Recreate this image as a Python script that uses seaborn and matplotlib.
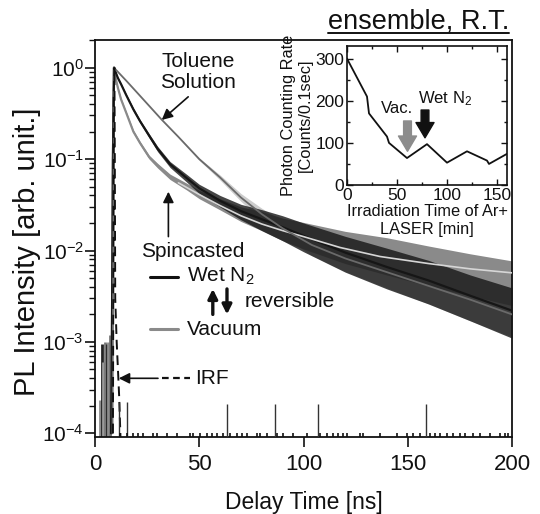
import matplotlib
matplotlib.use('Agg')
import matplotlib.pyplot as plt
import seaborn as sns
from matplotlib.lines import Line2D
from matplotlib.ticker import LogLocator, MultipleLocator, NullFormatter, FixedLocator

# ---------------- data ----------------
# Spincasted film, wet N2 (black, noisy) and vacuum (gray, noisy)
t_film = [7.7, 8.1, 8.6, 9.1, 10, 11, 12.5, 15, 18.4, 21.6, 26, 30, 36, 44, 50,
          60, 70, 80, 90, 100, 120, 140, 160, 180, 200]
wet_mid = [1e-4, 1e-3, 0.1, 1.0, 0.88, 0.77, 0.66, 0.50, 0.35, 0.26, 0.18, 0.13, 0.088,
           0.062, 0.048, 0.035, 0.027, 0.022, 0.018, 0.0145, 0.0095, 0.0066, 0.0047,
           0.0032, 0.0022]
wet_lo = [1e-4, 1e-3, 0.1, 1.0, 0.86, 0.752, 0.637, 0.483, 0.334, 0.248, 0.17, 0.121,
          0.081, 0.056, 0.042, 0.030, 0.0217, 0.0165, 0.0128, 0.0097, 0.0058, 0.0038,
          0.0026, 0.0017, 0.0011]
wet_hi = [1e-4, 1e-3, 0.1, 1.0, 0.90, 0.785, 0.68, 0.515, 0.364, 0.27, 0.189, 0.138,
          0.094, 0.068, 0.053, 0.040, 0.032, 0.028, 0.024, 0.020, 0.0143, 0.0106, 0.0078,
          0.0054, 0.0039]
vac_mid = [1e-4, 1e-3, 0.1, 1.0, 0.75, 0.60, 0.45, 0.32, 0.20, 0.15, 0.105, 0.085, 0.064,
           0.050, 0.041, 0.032, 0.025, 0.021, 0.017, 0.0145, 0.0108, 0.0086, 0.0068,
           0.0054, 0.0044]
vac_lo = [1e-4, 1e-3, 0.1, 1.0, 0.735, 0.588, 0.437, 0.311, 0.192, 0.144, 0.10, 0.08,
          0.0598, 0.0459, 0.0369, 0.0278, 0.0208, 0.0165, 0.0128, 0.0104, 0.0072, 0.0054,
          0.0041, 0.0032, 0.0025]
vac_hi = [1e-4, 1e-3, 0.1, 1.0, 0.765, 0.612, 0.464, 0.33, 0.208, 0.156, 0.11, 0.09,
          0.0685, 0.0545, 0.0455, 0.0368, 0.030, 0.0267, 0.0226, 0.0203, 0.0162, 0.0138,
          0.0112, 0.0092, 0.0077]

# Vacuum fit curve (light gray smooth line)
t_vfit = [40, 50, 60, 70, 80, 90, 100, 117.5, 136.7, 160, 180, 200]
vac_fit = [0.055, 0.041, 0.031, 0.024, 0.0195, 0.0165, 0.0142, 0.0108,
           0.0086, 0.0072, 0.0063, 0.0057]

# Toluene solution (smooth gray line + light-gray noisy data)
t_tol = [8.4, 9.1, 15, 20, 32, 40, 50, 60, 70, 80, 90, 104, 120, 140, 160, 180, 200]
tol = [1e-4, 1.0, 0.72, 0.54, 0.27, 0.175, 0.10, 0.063, 0.038, 0.025, 0.0175, 0.0115,
       0.0082, 0.0058, 0.0041, 0.0029, 0.0020]
tol_lo = [1e-4, 1.0, 0.72, 0.54, 0.27, 0.173, 0.097, 0.059, 0.0345, 0.0217, 0.0146,
          0.0088, 0.0059, 0.0039, 0.0026, 0.0017, 0.00114]
tol_hi = [1e-4, 1.0, 0.72, 0.54, 0.27, 0.177, 0.103, 0.067, 0.042, 0.029, 0.021, 0.015,
          0.0115, 0.0087, 0.0066, 0.0049, 0.0035]

# Instrument response function (dashed)
t_irf = [8.6, 9.0, 9.3, 9.5, 9.7, 10.4, 11.2, 11.6, 12.0, 12.3]
irf = [1e-4, 0.5, 1.0, 0.1, 3e-3, 1e-3, 4e-4, 2.5e-4, 1.3e-4, 8e-5]

# Pre-pulse noise spikes
pre_t = [2.4, 3.2, 4.0, 4.8, 5.6, 6.4, 7.2]
pre_h = [2.3e-4, 9.6e-4, 6e-4, 1.0e-3, 9.6e-4, 1.0e-3, 1.2e-3]
pre_c = ['#8c8c8c', '#222222', '#9a9a9a', '#777777', '#222222', '#8c8c8c', '#777777']

# Isolated single-count spikes and floor counts
spike_t = [11.6, 15.2, 63.2, 86.3, 106.8, 158.6]
spike_h = [2.2e-4, 2.2e-4, 2.1e-4, 2.1e-4, 2.1e-4, 2.1e-4]
floor_t = [12.0, 15.2, 18.4, 20.8, 23.2, 28.0, 29.6, 34.4, 39.2, 45.6, 47.2, 50.4, 53.6,
           56.0, 58.4, 61.6, 64.8, 68.0, 70.4, 72.8, 77.6, 79.1, 82.3, 87.1, 90.3, 95.1,
           101.5, 107.9, 111.1, 114.3, 116.7, 119.1, 120.7, 127.1, 128.7, 136.7, 144.7,
           149.5, 152.7, 155.9, 160.7, 163.1, 165.5, 168.7, 171.9, 175.1, 177.5, 181.5,
           184.7, 189.5, 194.3, 196.7, 198.3]
floor_h = 1.0e-4

# Inset: photon counting rate vs irradiation time
inset_t = [0, 20, 22, 40, 42, 60, 80, 100, 120, 140, 142, 160]
inset_rate = [300, 210, 170, 115, 100, 64, 97, 53, 80, 58, 50, 74]

# ---------------- style ----------------
sns.set_theme(style='ticks')
plt.rcParams['font.family'] = ['Liberation Sans', 'DejaVu Sans']
plt.rcParams['mathtext.fontset'] = 'custom'
plt.rcParams['mathtext.rm'] = 'Liberation Sans'
plt.rcParams['mathtext.it'] = 'Liberation Sans:italic'
plt.rcParams['mathtext.bf'] = 'Liberation Sans:bold'
plt.rcParams['axes.unicode_minus'] = False
TXT = '#111111'
plt.rcParams['text.color'] = TXT
plt.rcParams['xtick.color'] = TXT
plt.rcParams['ytick.color'] = TXT
plt.rcParams['axes.labelcolor'] = TXT

W, H = 540, 514
fig = plt.figure(figsize=(W / 100, H / 100), dpi=100)
fig.patch.set_facecolor('white')

ax = fig.add_axes([95 / W, 1 - 437 / H, 417 / W, 397 / H])
ax.set_yscale('log')
ax.set_xlim(0, 200)
ymin, ymax = 10 ** -4.04, 10 ** 0.303
ax.set_ylim(ymin, ymax)

# noisy bands
ax.fill_between(t_tol, tol_lo, tol_hi, color='#cdcdcd', lw=0, zorder=1)
ax.fill_between(t_film, vac_lo, vac_hi, color='#8a8a8a', lw=0, zorder=2)
ax.fill_between(t_film, wet_lo, wet_hi, color='#161616', lw=0, alpha=0.8, zorder=3)

sns.lineplot(x=t_film, y=vac_mid, ax=ax, color='#8a8a8a', lw=1.6, sort=False,
             estimator=None, zorder=2.5)
sns.lineplot(x=t_film, y=wet_mid, ax=ax, color='#161616', lw=1.6, sort=False,
             estimator=None, zorder=3.5)
sns.lineplot(x=t_vfit, y=vac_fit, ax=ax, color='#d6d6d6', lw=1.2, sort=False,
             estimator=None, zorder=4)
sns.lineplot(x=t_tol, y=tol, ax=ax, color='#6a6a6a', lw=1.3, sort=False,
             estimator=None, zorder=5)
sns.lineplot(x=t_irf, y=irf, ax=ax, color='#111111', lw=1.4, sort=False,
             estimator=None, zorder=6, linestyle=(0, (5, 3)))

ax.vlines(pre_t, ymin, pre_h, colors=pre_c, lw=2.0, zorder=2)
ax.vlines(spike_t, ymin, spike_h, colors='#333333', lw=1.0, zorder=6)
ax.vlines(floor_t, ymin, [floor_h] * len(floor_t), colors='#111111', lw=1.2, zorder=6)

# axes styling
for s in ['left', 'bottom', 'top', 'right']:
    ax.spines[s].set_linewidth(1.3)
    ax.spines[s].set_color(TXT)
ax.set_xticks([0, 50, 100, 150, 200])
ax.yaxis.set_major_locator(FixedLocator([1e-4, 1e-3, 1e-2, 1e-1, 1e0]))
ax.yaxis.set_minor_locator(LogLocator(base=10, subs=range(2, 10), numticks=20))
ax.yaxis.set_minor_formatter(NullFormatter())
ax.tick_params(axis='both', which='major', direction='out', length=7, width=1.2,
               labelsize=16, top=False, right=False)
ax.tick_params(axis='y', which='major', labelsize=15, pad=1)
ax.tick_params(axis='y', which='minor', direction='out', length=4, width=1.0, right=False)
ax.tick_params(axis='x', which='major', pad=5.5)
ax.set_xlabel('Delay Time [ns]', fontsize=16.5, labelpad=11)
ax.set_ylabel('PL Intensity [arb. unit.]', fontsize=21)
ax.yaxis.set_label_coords(-0.13, 0.466)

# annotations main
ax.text(49.5, 0.9, 'Toluene\nSolution', ha='center', va='center', fontsize=15,
        linespacing=1.1)
ax.annotate('', xy=(32, 0.268), xytext=(44.7, 0.48),
            arrowprops=dict(arrowstyle='-|>', color=TXT, lw=1.2, mutation_scale=16,
                            shrinkA=0, shrinkB=0))
ax.text(47, 0.0097, 'Spincasted', ha='center', va='center', fontsize=15)
ax.annotate('', xy=(35.2, 0.044), xytext=(35.2, 0.0142),
            arrowprops=dict(arrowstyle='-|>', color=TXT, lw=1.2, mutation_scale=16,
                            shrinkA=0, shrinkB=0))
ax.plot([26.4, 39.8], [0.00516, 0.00516], color='#111111', lw=2.2)
ax.text(44.1, 0.00516, 'Wet N$_2$', ha='left', va='center', fontsize=15)
ax.plot([26.4, 39.8], [0.00138, 0.00138], color='#8a8a8a', lw=2.2)
ax.text(44.1, 0.00138, 'Vacuum', ha='left', va='center', fontsize=15)
ax.annotate('', xy=(56.5, 0.0038), xytext=(56.5, 0.0020),
            arrowprops=dict(arrowstyle='-|>', color=TXT, lw=2.4, mutation_scale=14,
                            shrinkA=0, shrinkB=0))
ax.annotate('', xy=(63.3, 0.0020), xytext=(63.3, 0.0038),
            arrowprops=dict(arrowstyle='-|>', color=TXT, lw=2.4, mutation_scale=14,
                            shrinkA=0, shrinkB=0))
ax.text(72, 0.00275, 'reversible', ha='left', va='center', fontsize=15)
ax.annotate('', xy=(11.4, 4.0e-4), xytext=(30.2, 4.0e-4),
            arrowprops=dict(arrowstyle='-|>', color=TXT, lw=1.2, mutation_scale=16,
                            shrinkA=0, shrinkB=0))
ax.plot([32.1, 45.6], [4.0e-4, 4.0e-4], color=TXT, lw=1.6, linestyle=(0, (3, 2)))
ax.text(48, 4.0e-4, 'IRF', ha='left', va='center', fontsize=15)

# ---------------- inset ----------------
ax2 = fig.add_axes([347 / W, 1 - 185 / H, 160 / W, 139 / H])
sns.lineplot(x=inset_t, y=inset_rate, ax=ax2, color='#111111', lw=1.3, sort=False,
             estimator=None)
ax2.set_xlim(0, 160)
ax2.set_ylim(0, 330)
ax2.xaxis.set_major_locator(MultipleLocator(50))
ax2.xaxis.set_minor_locator(MultipleLocator(25))
ax2.yaxis.set_major_locator(MultipleLocator(100))
ax2.yaxis.set_minor_locator(MultipleLocator(50))
ax2.tick_params(which='both', direction='in', top=True, right=True, width=1.0)
ax2.tick_params(which='major', length=4, labelsize=12.5, pad=2)
ax2.tick_params(which='minor', length=2.5)
for s in ['left', 'bottom', 'top', 'right']:
    ax2.spines[s].set_linewidth(1.2)
    ax2.spines[s].set_color(TXT)
ax2.set_xlabel('Irradiation Time of Ar+\nLASER [min]', fontsize=11.8, labelpad=1,
               linespacing=1.2)
ax2.set_ylabel('Photon Counting Rate\n[Counts/0.1sec]', fontsize=11.8, labelpad=2,
               linespacing=1.1)
ax2.text(50, 181, 'Vac.', ha='center', va='center', fontsize=12)
ax2.text(98, 206, 'Wet N$_2$', ha='center', va='center', fontsize=12)
ax2.annotate('', xy=(60.5, 80), xytext=(60.5, 152),
             arrowprops=dict(arrowstyle='simple,head_length=0.55,head_width=0.65,tail_width=0.28',
                             color='#8c8c8c', mutation_scale=20, shrinkA=0, shrinkB=0))
ax2.annotate('', xy=(78, 112), xytext=(78, 178),
             arrowprops=dict(arrowstyle='simple,head_length=0.55,head_width=0.65,tail_width=0.28',
                             color='#111111', mutation_scale=20, shrinkA=0, shrinkB=0))

# ---------------- title with underline ----------------
ttl = fig.text(509 / W, 1 - 29 / H, 'ensemble, R.T.', ha='right', va='baseline',
               fontsize=19.5, color=TXT)
fig.canvas.draw()
bb = ttl.get_window_extent()
inv = fig.transFigure.inverted()
(x0, _), (x1, _) = inv.transform([(bb.x0, 0), (bb.x1, 0)])
fig.add_artist(Line2D([x0, x1], [1 - 32.5 / H, 1 - 32.5 / H], color=TXT, lw=1.4,
                      transform=fig.transFigure))

fig.savefig('out.png', dpi=100)
